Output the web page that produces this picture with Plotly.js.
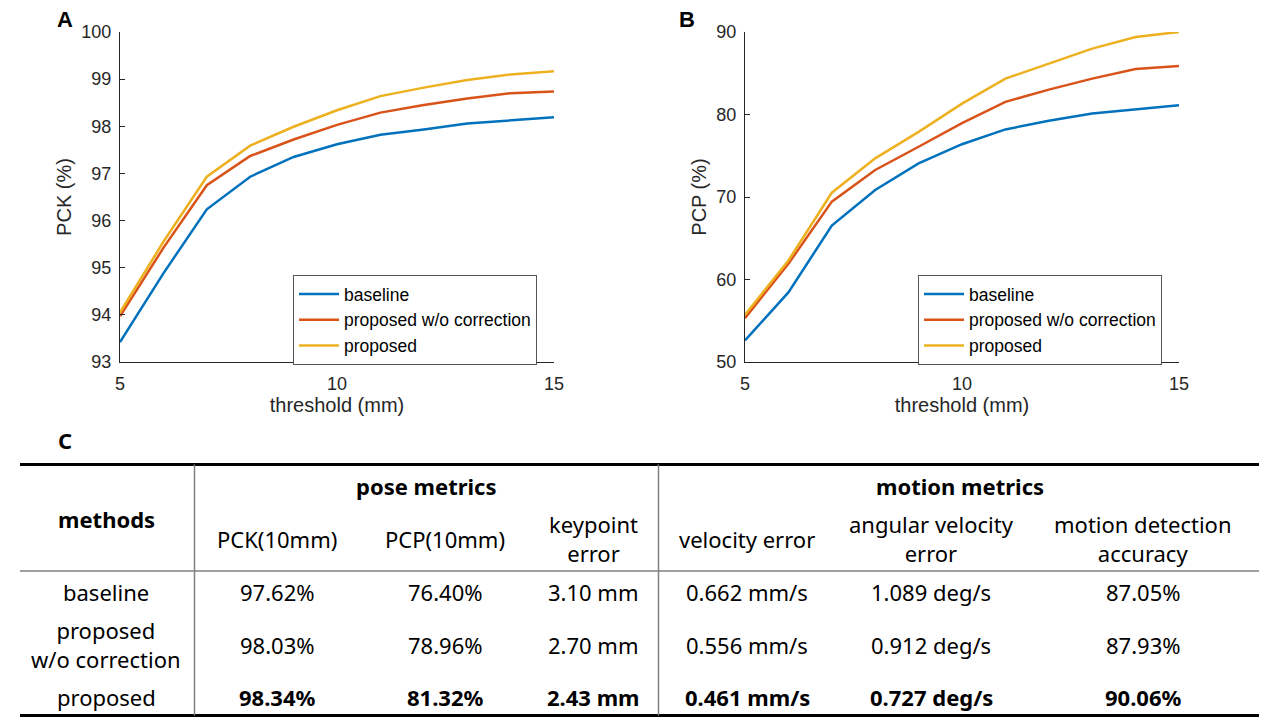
<!DOCTYPE html>
<html><head><meta charset="utf-8">
<script src="https://cdn.plot.ly/plotly-3.0.1.min.js"></script>
<style>html,body{margin:0;padding:0;background:#fff;overflow:hidden}</style>
</head><body><div id="chart" style="width:1280px;height:720px"></div>
<script>
// ---- data: curves ----
const thresholds = [5, 6, 7, 8, 9, 10, 11, 12, 13, 14, 15];
const seriesNames = ["baseline", "proposed w/o correction", "proposed"];
const pckBaseline = [93.42, 94.88, 96.24, 96.93, 97.35, 97.62, 97.82, 97.93, 98.06, 98.13, 98.19];
const pckNoCorr   = [93.97, 95.42, 96.75, 97.37, 97.72, 98.03, 98.29, 98.45, 98.59, 98.70, 98.74];
const pckProposed = [94.05, 95.55, 96.93, 97.59, 97.99, 98.34, 98.64, 98.82, 98.98, 99.10, 99.17];
const pcpBaseline = [52.62, 58.43, 66.53, 70.85, 74.07, 76.40, 78.19, 79.23, 80.12, 80.65, 81.13];
const pcpNoCorr   = [55.32, 61.90, 69.44, 73.27, 76.09, 78.96, 81.53, 83.02, 84.35, 85.52, 85.89];
const pcpProposed = [55.73, 62.30, 70.52, 74.68, 77.90, 81.32, 84.35, 86.17, 87.98, 89.40, 90.00];
const pckTicks = [93, 94, 95, 96, 97, 98, 99, 100];
const pcpTicks = [50, 60, 70, 80, 90];
const xTicks = [5, 10, 15];

// ---- data: table ----
const tableMethods = ["baseline", "proposed<br>w/o correction", "proposed"];
const groupHeaders = ["pose metrics", "motion metrics"];
const colHeaders = ["PCK(10mm)", "PCP(10mm)", "keypoint<br>error", "velocity error", "angular velocity<br>error", "motion detection<br>accuracy"];
const pck10 = [97.62, 98.03, 98.34];
const pcp10 = [76.40, 78.96, 81.32];
const keypointErr = [3.10, 2.70, 2.43];
const velErr = [0.662, 0.556, 0.461];
const angVelErr = [1.089, 0.912, 0.727];
const motionAcc = [87.05, 87.93, 90.06];
const bestRow = 2;

// ---- layout constants (pixels) ----
const W = 1280, H = 720;
const px = v => v / W, py = v => 1 - v / H;
const colors = ["#0072BD", "#D95319", "#EDB120"];
const axFont = "'Liberation Sans', Arial, Helvetica, sans-serif";
const tblFont = "'Noto Sans', 'Open Sans', sans-serif";
const grey = "#262626";

const traces = [];
[[pckBaseline, pckNoCorr, pckProposed], [pcpBaseline, pcpNoCorr, pcpProposed]].forEach((set, si) => {
  set.forEach((ys, k) => {
    traces.push({
      x: thresholds, y: ys, type: "scatter", mode: "lines",
      name: seriesNames[k],
      line: {color: colors[k], width: 2.5},
      xaxis: si === 0 ? "x" : "x2", yaxis: si === 0 ? "y" : "y2",
      legend: si === 0 ? "legend" : "legend2",
      hoverinfo: "x+y+name"
    });
  });
});

function xAx(domain, anchor) {
  return {domain, anchor, range: [5, 15], tickvals: xTicks, ticks: "inside", ticklen: 5,
    tickcolor: grey, showline: true, linecolor: grey, linewidth: 1, showgrid: false, zeroline: false,
    tickfont: {family: axFont, size: 18, color: grey}, ticklabelstandoff: 5,
    title: {text: "threshold (mm)", font: {family: axFont, size: 20, color: grey}, standoff: 3}};
}
function yAx(domain, anchor, range, tickvals, label) {
  return {domain, anchor, range, tickvals, ticks: "inside", ticklen: 5,
    tickcolor: grey, showline: true, linecolor: grey, linewidth: 1, showgrid: false, zeroline: false,
    tickfont: {family: axFont, size: 18, color: grey}, ticklabelstandoff: 4,
    title: {text: label, font: {family: axFont, size: 20, color: grey}, standoff: 4}};
}

const annotations = [];
const ann = (text, x, y, opts = {}) => annotations.push(Object.assign({
  text, x: px(x), y: py(y), xref: "paper", yref: "paper", showarrow: false,
  xanchor: "center", yanchor: "middle", font: {family: tblFont, size: 22, color: "#000"}
}, opts));

// panel labels
ann("<b>A</b>", 65, 19, {font: {family: axFont, size: 22, color: "#000"}});
ann("<b>B</b>", 687, 19, {font: {family: axFont, size: 22, color: "#000"}});
ann("<b>C</b>", 65, 440, {font: {family: tblFont, size: 22, color: "#000"}});

// table text
const colX = [277, 445, 593, 747, 931, 1143];
const groupX = [426, 960];
const methodX = 106;
const rowY = [591.5, 644.5, 697];
ann("<b>methods</b>", methodX, 519);
groupHeaders.forEach((g, i) => ann("<b>" + g + "</b>", groupX[i], 486));
colHeaders.forEach((h, i) => ann(h, colX[i], 538.5));
const cols = [
  pck10.map(v => v.toFixed(2) + "%"),
  pcp10.map(v => v.toFixed(2) + "%"),
  keypointErr.map(v => v.toFixed(2) + " mm"),
  velErr.map(v => v.toFixed(3) + " mm/s"),
  angVelErr.map(v => v.toFixed(3) + " deg/s"),
  motionAcc.map(v => v.toFixed(2) + "%")
];
tableMethods.forEach((m, r) => {
  ann(m, methodX, rowY[r]);
  cols.forEach((c, ci) => ann(r === bestRow ? "<b>" + c[r] + "</b>" : c[r], colX[ci], rowY[r]));
});

const line = (x0, y0, x1, y1, w, c) => ({type: "line", xref: "paper", yref: "paper",
  x0: px(x0), y0: py(y0), x1: px(x1), y1: py(y1), line: {width: w, color: c}});
const shapes = [
  line(20, 464.5, 1259, 464.5, 3, "#000"),
  line(20, 571, 1259, 571, 1.5, "#7f7f7f"),
  line(20, 715.5, 1259, 715.5, 3, "#000"),
  line(194.5, 464.5, 194.5, 715.5, 1.5, "#7f7f7f"),
  line(658.5, 464.5, 658.5, 715.5, 1.5, "#7f7f7f")
];

const legendStyle = (x) => ({x: px(x), y: py(275), xanchor: "left", yanchor: "top",
  xref: "paper", yref: "paper", bordercolor: "#555", borderwidth: 1, bgcolor: "#fff",
  font: {family: axFont, size: 17.5, color: "#000"}, tracegroupgap: 0, itemwidth: 40});

const layout = {
  width: W, height: H, margin: {l: 0, r: 0, t: 0, b: 0},
  paper_bgcolor: "#fff", plot_bgcolor: "#fff", showlegend: true,
  xaxis: xAx([px(120), px(554)], "y"),
  yaxis: yAx([py(362), py(32)], "x", [93, 100], pckTicks, "PCK (%)"),
  xaxis2: xAx([px(745), px(1179)], "y2"),
  yaxis2: yAx([py(362), py(32)], "x2", [50, 90], pcpTicks, "PCP (%)"),
  legend: legendStyle(293),
  legend2: legendStyle(918),
  annotations, shapes
};
Plotly.newPlot("chart", traces, layout, {displayModeBar: false, staticPlot: true});
</script></body></html>
